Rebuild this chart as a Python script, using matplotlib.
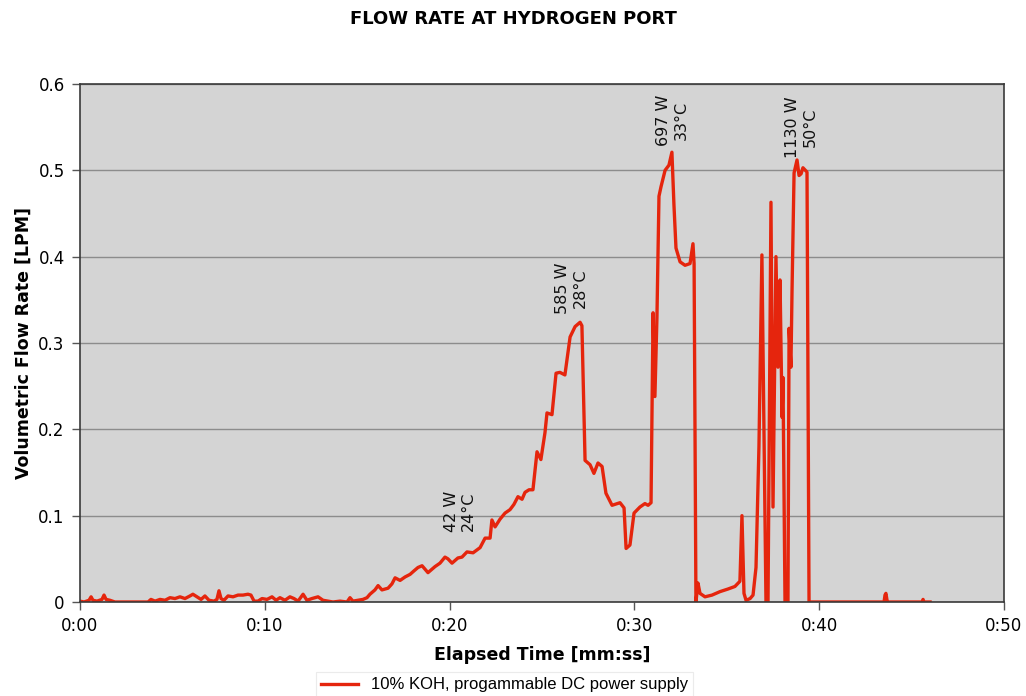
import matplotlib
matplotlib.use("Agg")
import matplotlib.pyplot as plt

# Elapsed time (minutes) and hydrogen-port flow rate (LPM)
time_min = [
    0.00, 0.22, 0.49, 0.60, 0.70, 0.92, 1.19, 1.30, 1.41, 1.62, 1.89, 3.68, 3.84, 4.06,
    4.33, 4.60, 4.87, 5.14, 5.41, 5.68, 5.95, 6.11, 6.33, 6.55, 6.76, 6.98, 7.25, 7.41,
    7.52, 7.63, 7.79, 8.01, 8.28, 8.55, 8.82, 9.09, 9.25, 9.42, 9.63, 9.85, 10.12, 10.39,
    10.61, 10.82, 11.09, 11.36, 11.58, 11.80, 12.07, 12.28, 12.55, 12.88, 13.15, 13.42,
    13.69, 14.07, 14.45, 14.61, 14.77, 15.04, 15.31, 15.53, 15.69, 15.96, 16.13, 16.34,
    16.67, 16.88, 17.05, 17.32, 17.59, 17.86, 18.07, 18.29, 18.51, 18.83, 19.21, 19.48,
    19.75, 19.91, 20.13, 20.45, 20.67, 20.94, 21.27, 21.65, 21.92, 22.19, 22.29, 22.46,
    22.73, 23.00, 23.27, 23.48, 23.70, 23.92, 24.08, 24.30, 24.51, 24.73, 24.94, 25.16,
    25.27, 25.54, 25.76, 25.97, 26.24, 26.52, 26.79, 27.06, 27.16, 27.33, 27.60, 27.81,
    28.03, 28.25, 28.46, 28.79, 29.22, 29.44, 29.55, 29.76, 29.98, 30.30, 30.57, 30.74,
    30.90, 31.01, 31.11, 31.22, 31.33, 31.44, 31.66, 31.87, 32.03, 32.14, 32.25, 32.47,
    32.74, 33.01, 33.17, 33.23, 33.33, 33.44, 33.55, 33.82, 34.20, 34.63, 35.06, 35.44,
    35.71, 35.82, 35.93, 36.04, 36.26, 36.42, 36.58, 36.74, 36.90, 37.01, 37.12, 37.23,
    37.39, 37.50, 37.66, 37.77, 37.88, 37.99, 38.04, 38.15, 38.31, 38.37, 38.47, 38.53,
    38.64, 38.80, 38.91, 39.02, 39.12, 39.34, 39.45, 43.51, 43.56, 43.61, 43.67, 43.72,
    45.56, 45.62, 45.67, 46.00,
]
flow_lpm = [
    0.001, 0.000, 0.002, 0.006, 0.002, 0.001, 0.003, 0.008, 0.003, 0.002, 0.000, 0.000, 0.003, 0.001,
    0.003, 0.002, 0.005, 0.004, 0.006, 0.004, 0.007, 0.009, 0.006, 0.003, 0.007, 0.002, 0.001, 0.003,
    0.013, 0.004, 0.002, 0.007, 0.006, 0.008, 0.008, 0.009, 0.008, 0.001, 0.001, 0.004, 0.003, 0.006,
    0.002, 0.005, 0.002, 0.006, 0.004, 0.001, 0.009, 0.002, 0.004, 0.006, 0.002, 0.001,
    0.000, 0.001, 0.000, 0.005, 0.001, 0.002, 0.003, 0.005, 0.009, 0.014, 0.019, 0.014,
    0.016, 0.021, 0.028, 0.025, 0.029, 0.032, 0.036, 0.040, 0.042, 0.034, 0.041, 0.045,
    0.052, 0.050, 0.045, 0.051, 0.052, 0.058, 0.057, 0.063, 0.074, 0.074, 0.095, 0.087,
    0.096, 0.103, 0.107, 0.113, 0.122, 0.119, 0.127, 0.130, 0.130, 0.174, 0.165, 0.196,
    0.219, 0.217, 0.265, 0.266, 0.263, 0.307, 0.319, 0.324, 0.320, 0.164, 0.159, 0.149,
    0.161, 0.157, 0.126, 0.112, 0.115, 0.109, 0.062, 0.066, 0.103, 0.110, 0.114, 0.112,
    0.115, 0.335, 0.238, 0.330, 0.470, 0.481, 0.500, 0.506, 0.521, 0.460, 0.410, 0.394,
    0.390, 0.392, 0.415, 0.392, 0.000, 0.022, 0.010, 0.006, 0.008, 0.012, 0.015, 0.018,
    0.024, 0.100, 0.010, 0.002, 0.004, 0.008, 0.040, 0.180, 0.402, 0.200, 0.000, 0.000,
    0.463, 0.110, 0.400, 0.272, 0.373, 0.214, 0.260, 0.000, 0.000, 0.317, 0.272, 0.361,
    0.497, 0.512, 0.494, 0.496, 0.503, 0.498, 0.000, 0.000, 0.008, 0.010, 0.002, 0.000,
    0.000, 0.003, 0.000, 0.000,
]

# power / temperature notes
note_text = ["42 W\n24°C", "585 W\n28°C", "697 W\n33°C", "1130 W\n50°C"]
note_t = [20.55, 26.6, 32.05, 39.05]
note_v = [0.105, 0.363, 0.558, 0.55]

xticks = [0, 10, 20, 30, 40, 50]
xtick_labels = ["0:00", "0:10", "0:20", "0:30", "0:40", "0:50"]
yticks = [0, 0.1, 0.2, 0.3, 0.4, 0.5, 0.6]
ytick_labels = ["0", "0.1", "0.2", "0.3", "0.4", "0.5", "0.6"]

fig = plt.figure(figsize=(10.26, 6.96), dpi=100)
ax = fig.add_axes([80 / 1026, 1 - 602 / 696, 924 / 1026, 518 / 696])
ax.set_facecolor("#d4d4d4")

ax.plot(time_min, flow_lpm, color="#e5250d", lw=2.4, solid_joinstyle="round",
        label="10% KOH, progammable DC power supply")

for txt, t, v in zip(note_text, note_t, note_v):
    ax.text(t, v, txt, rotation=90, ha="center", va="center",
            multialignment="center", fontsize=11.5, color="#111111")

ax.set_xlim(0, 50)
ax.set_ylim(0, 0.6)
ax.set_xticks(xticks)
ax.set_xticklabels(xtick_labels)
ax.set_yticks(yticks)
ax.set_yticklabels(ytick_labels)
ax.tick_params(labelsize=12, length=6, width=1, color="#555555", pad=5)
ax.yaxis.grid(True, color="#8c8c8c", lw=1)
ax.set_axisbelow(True)
for s in ax.spines.values():
    s.set_color("#3a3a3a")
    s.set_linewidth(1.2)

ax.set_xlabel("Elapsed Time [mm:ss]", fontsize=12.5, fontweight="bold", labelpad=8)
ax.set_ylabel("Volumetric Flow Rate [LPM]", fontsize=12.5, fontweight="bold", labelpad=4)
fig.suptitle("FLOW RATE AT HYDROGEN PORT", fontsize=13, fontweight="bold", y=0.985)

leg = fig.legend(loc="center", bbox_to_anchor=(0.492, 0.016), frameon=True,
                 fancybox=False, edgecolor="#e6e6e6",
                 handlelength=2.2, borderpad=0.3,
                 prop={"family": "Liberation Sans", "size": 12})
leg.get_frame().set_linewidth(0.8)

fig.savefig("out.png", dpi=100)
